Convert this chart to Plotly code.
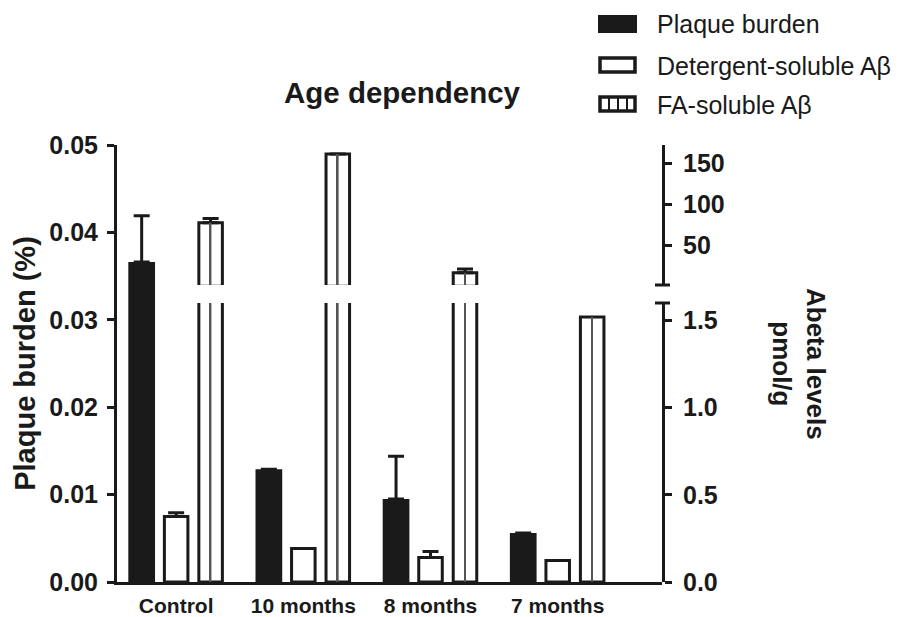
import plotly.graph_objects as go

# ---------------- data ----------------
categories = ["Control", "10 months", "8 months", "7 months"]
series_names = ["Plaque burden", "Detergent-soluble A\u03b2", "FA-soluble A\u03b2"]

plaque = [0.0366, 0.0129, 0.0095, 0.0056]          # left axis (%)
plaque_err = [0.0053, None, 0.0049, None]

detergent = [0.375, 0.192, 0.141, 0.124]            # right axis (pmol/g)
detergent_err = [0.022, None, 0.034, None]

fa = [77.5, 161.0, 16.5, 1.52]                      # right axis (pmol/g)
fa_err = [5.0, None, 4.5, None]

left_ticks = [0.0, 0.01, 0.02, 0.03, 0.04, 0.05]
right_low_ticks = [0.0, 0.5, 1.0, 1.5]
right_high_ticks = [50, 100, 150]

# ---------------- layout constants ----------------
W, H = 900, 617
ML, MR, MT, MB = 117, 238, 145, 35
PW, PH = W - ML - MR, H - MT - MB
FONT = "Liberation Sans, Arial, Helvetica, sans-serif"
INK = "#1a1a1a"

LOW_BREAK = 1.6
LOW_TOP = (582 - 303) / PH        # domain top of lower right segment
HIGH_BOTTOM = (582 - 285) / PH    # domain bottom of upper right segment


def px_x(px):
    return (px - ML) / PW


def px_y(py):
    return (582 - py) / PH


err_style = dict(type="data", symmetric=False, color=INK, thickness=3, width=8)

fig = go.Figure()

# Plaque burden (left axis)
fig.add_trace(go.Bar(
    x=categories, y=plaque, yaxis="y", name=series_names[0],
    offset=-0.376, width=0.21,
    marker=dict(color=INK, line=dict(width=0)),
    error_y=dict(array=plaque_err, arrayminus=[0] * 4, **err_style),
    showlegend=False,
))

# Detergent-soluble (right, lower segment)
fig.add_trace(go.Bar(
    x=categories, y=detergent, yaxis="y2", name=series_names[1],
    offset=-0.0925, width=0.185,
    marker=dict(color="white", line=dict(color=INK, width=3)),
    error_y=dict(array=detergent_err, arrayminus=[0] * 4, **err_style),
    showlegend=False,
))

# FA-soluble, drawn in the lower and upper segments of the broken axis
fa_upper = [v if v > LOW_BREAK else None for v in fa]
for ax, vals, with_err in (("y2", fa, False), ("y3", fa_upper, True)):
    kw = {}
    if with_err:
        kw["error_y"] = dict(array=fa_err, arrayminus=[0] * 4, **err_style)
    fig.add_trace(go.Bar(
        x=categories, y=vals, yaxis=ax, name=series_names[2],
        offset=0.1785, width=0.185,
        marker=dict(color="white", line=dict(color=INK, width=3)),
        showlegend=False, **kw,
    ))
    # vertical stripe in the middle of FA bars
    fig.add_trace(go.Bar(
        x=categories, y=vals, yaxis=ax, name=series_names[2],
        offset=0.2645, width=0.013,
        marker=dict(color="#555555", line=dict(width=0)),
        showlegend=False, hoverinfo="skip",
    ))

tick_font = dict(family=FONT, size=25, color=INK, weight="bold")
axis_common = dict(showline=True, linewidth=3, linecolor=INK, ticks="outside",
                   ticklen=7, tickwidth=3, tickcolor=INK, showgrid=False,
                   zeroline=False, automargin=False, tickfont=tick_font)

fig.update_layout(
    width=W, height=H,
    margin=dict(l=ML, r=MR, t=MT, b=MB),
    template="none",
    paper_bgcolor="white", plot_bgcolor="rgba(0,0,0,0)",
    barmode="overlay",
    showlegend=False,
    font=dict(family=FONT, color=INK),
    title=dict(text="Age dependency", x=402 / W, y=1 - 93 / H,
               xref="container", yref="container", xanchor="center", yanchor="middle",
               font=dict(family=FONT, size=29.5, color=INK, weight="bold")),
    xaxis=dict(type="category", range=[-0.465, 3.82], showline=True, linewidth=3,
               linecolor=INK, ticks="", showgrid=False, zeroline=False,
               automargin=False, anchor="y", ticklabelstandoff=3,
               tickfont=dict(family=FONT, size=21, color=INK, weight="bold")),
    yaxis=dict(range=[0, 0.05], tickvals=left_ticks, tickformat=".2f",
               domain=[0, 1], anchor="x", ticklabelstandoff=4,
               title=dict(text="Plaque burden (%)", standoff=6,
                          font=dict(family=FONT, size=29, color=INK, weight="bold")),
               **axis_common),
    yaxis2=dict(range=[0, LOW_BREAK], tickvals=right_low_ticks, tickformat=".1f",
                domain=[0, LOW_TOP], anchor="x", side="right", ticklabelstandoff=6,
                **axis_common),
    yaxis3=dict(range=[LOW_BREAK, 172], tickvals=right_high_ticks,
                domain=[HIGH_BOTTOM, 1], anchor="x", side="right", ticklabelstandoff=6,
                **axis_common),
)

shapes = []
# break caps on the right axis
for yy in (LOW_TOP, HIGH_BOTTOM):
    shapes.append(dict(type="line", xref="paper", yref="paper",
                       x0=px_x(655), x1=px_x(670), y0=yy, y1=yy,
                       line=dict(color=INK, width=3)))

# custom legend icons
shapes.append(dict(type="rect", xref="paper", yref="paper",
                   x0=px_x(599), x1=px_x(636), y0=px_y(32), y1=px_y(16),
                   fillcolor=INK, line=dict(color=INK, width=2)))
shapes.append(dict(type="rect", xref="paper", yref="paper",
                   x0=px_x(600), x1=px_x(635), y0=px_y(72), y1=px_y(58),
                   fillcolor="white", line=dict(color=INK, width=3.5)))
shapes.append(dict(type="rect", xref="paper", yref="paper",
                   x0=px_x(600), x1=px_x(635), y0=px_y(111), y1=px_y(97),
                   fillcolor="white", line=dict(color=INK, width=3.5)))
for lx in (609, 618, 627):
    shapes.append(dict(type="line", xref="paper", yref="paper",
                       x0=px_x(lx), x1=px_x(lx), y0=px_y(111), y1=px_y(97),
                       line=dict(color=INK, width=2)))

annotations = []
for name, yc in zip(series_names, (24, 66, 105)):
    annotations.append(dict(text=name, xref="paper", yref="paper",
                            x=px_x(655), y=px_y(yc), xanchor="left", yanchor="middle",
                            showarrow=False,
                            font=dict(family=FONT, size=25, color=INK)))

annotations.append(dict(text="Abeta levels<br>pmol/g", xref="paper", yref="paper",
                        x=px_x(799), y=px_y(364), xanchor="center", yanchor="middle",
                        textangle=90, showarrow=False,
                        font=dict(family=FONT, size=26, color=INK, weight="bold")))

fig.update_layout(shapes=shapes, annotations=annotations)

fig.write_html(
    "out.html",
    config={"displayModeBar": False},
    post_script="document.body.style.margin='0';document.body.style.overflow='hidden';",
)
